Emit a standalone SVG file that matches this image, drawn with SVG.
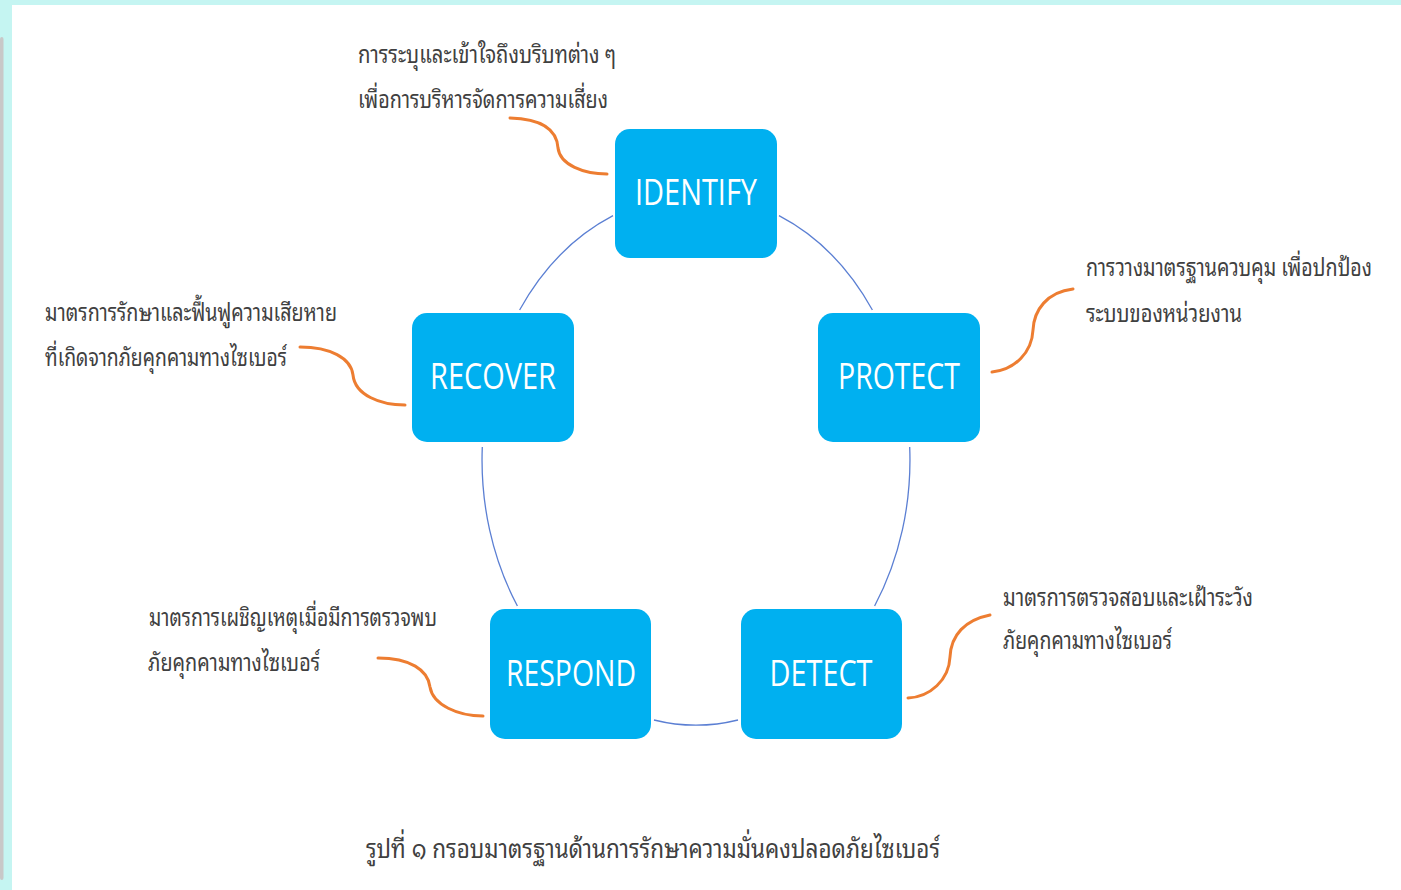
<svg xmlns="http://www.w3.org/2000/svg" width="1401" height="890" viewBox="0 0 1401 890">
<style>
.box{fill:#00B0F0;}
.lbl{font-family:"Open Sans","Liberation Sans",sans-serif;font-size:36px;fill:#FFFFFF;text-anchor:middle;}
.con{fill:none;stroke:#5B7FD3;stroke-width:1.3;}
.call{fill:none;stroke:#ED7D31;stroke-width:3;stroke-linecap:round;}
.th{font-family:"Noto Sans Thai Looped","Noto Serif Thai","Noto Sans Thai","Noto Sans","DejaVu Sans",sans-serif;font-size:24px;fill:#404040;}
</style>
<rect x="0" y="0" width="1401" height="890" fill="#C5F5F2"/>
<rect x="0" y="37" width="3.5" height="843" rx="2" fill="#C8C8C8"/>
<rect x="12" y="5" width="1389" height="885" fill="#FFFFFF"/>

<g id="connectors">
<path class="con" d="M613,215.7 A214,265 0 0,0 519.6,310"/>
<path class="con" d="M779,215.7 A214,265 0 0,1 872.4,310"/>
<path class="con" d="M909.7,447 A214,265 0 0,1 874.6,606"/>
<path class="con" d="M482.3,447 A214,265 0 0,0 517.4,606"/>
<path class="con" d="M654,720 A214,265 0 0,0 738,720"/>
</g>

<g id="callouts">
<path class="call" d="M510,118 C545,119 557,132 558,148 C560,165 584,174 607,174"/>
<path class="call" d="M1073,289 C1047,292 1034,310 1033,330 C1032,352 1015,370 992,372"/>
<path class="call" d="M300,347 C330,347 351,358 353,375 C355,395 380,405 405,405"/>
<path class="call" d="M378,658 C410,658 428,670 430,687 C433,705 458,716 483,716"/>
<path class="call" d="M990,615 C965,620 951,635 950,657 C949,680 930,697 908,698"/>
</g>

<g id="identify">
<rect class="box" x="615" y="129" width="162" height="129" rx="15"/>
<text class="lbl" x="696" y="205" textLength="122" lengthAdjust="spacingAndGlyphs">IDENTIFY</text>
</g>
<g id="protect">
<rect class="box" x="818" y="313" width="162" height="129" rx="15"/>
<text class="lbl" x="899" y="389" textLength="122" lengthAdjust="spacingAndGlyphs">PROTECT</text>
</g>
<g id="recover">
<rect class="box" x="412" y="313" width="162" height="129" rx="15"/>
<text class="lbl" x="493" y="389" textLength="126" lengthAdjust="spacingAndGlyphs">RECOVER</text>
</g>
<g id="respond">
<rect class="box" x="490" y="609" width="161" height="130" rx="15"/>
<text class="lbl" x="571" y="686" textLength="130" lengthAdjust="spacingAndGlyphs">RESPOND</text>
</g>
<g id="detect">
<rect class="box" x="741" y="609" width="161" height="130" rx="15"/>
<text class="lbl" x="821" y="686" textLength="103" lengthAdjust="spacingAndGlyphs">DETECT</text>
</g>

<g id="note-identify">
<text class="th" x="358" y="63" textLength="258" lengthAdjust="spacingAndGlyphs">การระบุและเข้าใจถึงบริบทต่าง ๆ</text>
<text class="th" x="358" y="108" textLength="250" lengthAdjust="spacingAndGlyphs">เพื่อการบริหารจัดการความเสี่ยง</text>
</g>
<g id="note-protect">
<text class="th" x="1086" y="276" textLength="286" lengthAdjust="spacingAndGlyphs">การวางมาตรฐานควบคุม เพื่อปกป้อง</text>
<text class="th" x="1086" y="322" textLength="156" lengthAdjust="spacingAndGlyphs">ระบบของหน่วยงาน</text>
</g>
<g id="note-recover">
<text class="th" x="45" y="321" textLength="292" lengthAdjust="spacingAndGlyphs">มาตรการรักษาและฟื้นฟูความเสียหาย</text>
<text class="th" x="45" y="366" textLength="242" lengthAdjust="spacingAndGlyphs">ที่เกิดจากภัยคุกคามทางไซเบอร์</text>
</g>
<g id="note-respond">
<text class="th" x="149" y="626" textLength="288" lengthAdjust="spacingAndGlyphs">มาตรการเผชิญเหตุเมื่อมีการตรวจพบ</text>
<text class="th" x="148" y="671" textLength="172" lengthAdjust="spacingAndGlyphs">ภัยคุกคามทางไซเบอร์</text>
</g>
<g id="note-detect">
<text class="th" x="1003" y="606" textLength="250" lengthAdjust="spacingAndGlyphs">มาตรการตรวจสอบและเฝ้าระวัง</text>
<text class="th" x="1003" y="649" textLength="169" lengthAdjust="spacingAndGlyphs">ภัยคุกคามทางไซเบอร์</text>
</g>

<text class="th" x="366" y="858" style="font-size:27px" textLength="574" lengthAdjust="spacingAndGlyphs">รูปที่ ๑ กรอบมาตรฐานด้านการรักษาความมั่นคงปลอดภัยไซเบอร์</text>
</svg>
